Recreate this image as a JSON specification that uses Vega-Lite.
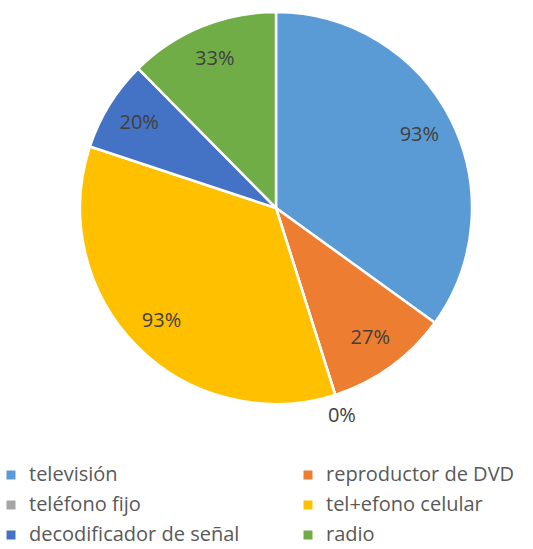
{
  "$schema": "https://vega.github.io/schema/vega-lite/v6.json",
  "autosize": "none",
  "width": 514,
  "height": 416,
  "padding": {"left": 19, "top": 0, "right": 0, "bottom": 133},
  "background": "#ffffff",
  "data": {
    "values": [
      {"orden": 1, "categoria": "televisión", "valor": 0.93},
      {"orden": 2, "categoria": "reproductor de DVD", "valor": 0.27},
      {"orden": 3, "categoria": "teléfono fijo", "valor": 0.0},
      {"orden": 4, "categoria": "tel+efono celular", "valor": 0.93},
      {"orden": 5, "categoria": "decodificador de señal", "valor": 0.20},
      {"orden": 6, "categoria": "radio", "valor": 0.33}
    ]
  },
  "encoding": {
    "theta": {"field": "valor", "type": "quantitative", "stack": true},
    "order": {"field": "orden", "type": "quantitative"}
  },
  "layer": [
    {
      "mark": {"type": "arc", "outerRadius": 196, "stroke": "#ffffff", "strokeWidth": 2.5},
      "encoding": {
        "color": {
          "field": "categoria",
          "type": "nominal",
          "sort": null,
          "scale": {
            "domain": ["televisión", "reproductor de DVD", "teléfono fijo", "tel+efono celular", "decodificador de señal", "radio"],
            "range": ["#5B9BD5", "#ED7D31", "#A5A5A5", "#FFC000", "#4472C4", "#70AD47"]
          },
          "legend": {
            "title": null,
            "orient": "none",
            "legendX": -18,
            "legendY": 465,
            "columns": 2,
            "direction": "horizontal",
            "padding": 0,
            "symbolType": "square",
            "symbolSize": 81,
            "symbolStrokeWidth": 0,
            "labelFont": "Open Sans",
            "labelFontSize": 20,
            "labelColor": "#595959",
            "labelOffset": 8,
            "labelLimit": 400,
            "rowPadding": 10,
            "columnPadding": 58
          }
        }
      }
    },
    {
      "mark": {"type": "text", "radius": 161, "font": "Open Sans", "fontSize": 20, "color": "#404040"},
      "encoding": {
        "text": {"condition": {"test": "datum.valor == 0", "value": ""}, "field": "valor", "type": "quantitative", "format": ".0%"}
      }
    },
    {
      "mark": {"type": "text", "radius": 218, "font": "Open Sans", "fontSize": 20, "color": "#404040"},
      "encoding": {
        "text": {"condition": {"test": "datum.valor > 0", "value": ""}, "field": "valor", "type": "quantitative", "format": ".0%"}
      }
    }
  ],
  "config": {"view": {"stroke": null}}
}
